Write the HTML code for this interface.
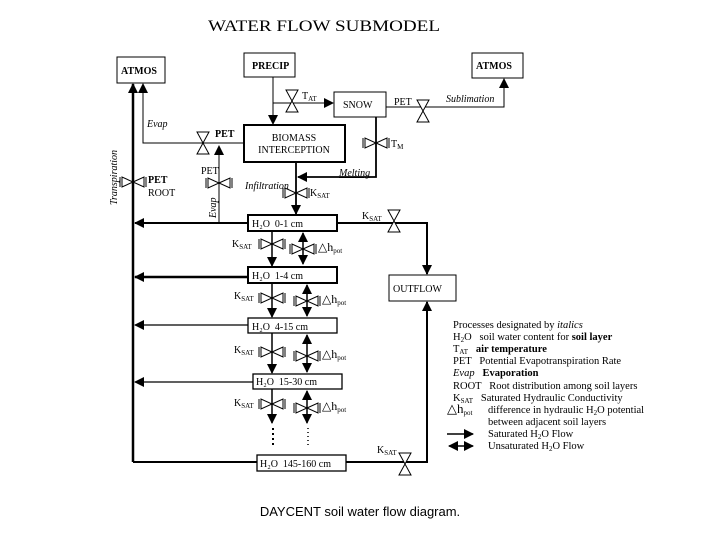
<!DOCTYPE html>
<html><head><meta charset="utf-8"><style>
html,body{margin:0;padding:0;background:#fff;}
svg{display:block;}
text{font-family:"Liberation Serif",serif;fill:#000;}
.s{font-size:10px;}
.b{font-weight:bold;}
.i{font-style:italic;}
.lg{font-size:10.5px;}
</style></head><body>
<svg width="720" height="540" viewBox="0 0 720 540" xmlns="http://www.w3.org/2000/svg">
<defs>
<marker id="a" markerWidth="8" markerHeight="8" refX="7" refY="4" orient="auto" markerUnits="userSpaceOnUse"><path d="M0,0 L8,4 L0,8 z" fill="#000"/></marker>
<marker id="a2" markerWidth="10" markerHeight="10" refX="9" refY="5" orient="auto" markerUnits="userSpaceOnUse"><path d="M0,0 L10,5 L0,10 z" fill="#000"/></marker>
<marker id="as" markerWidth="10" markerHeight="10" refX="1" refY="5" orient="auto" markerUnits="userSpaceOnUse"><path d="M10,0 L0,5 L10,10 z" fill="#000"/></marker>
<g id="vv"><path d="M-6,-11 L6,-11 L0,0 z M0,0 L-6,11 L6,11 z" fill="#fff" stroke="#000" stroke-width="1"/></g>
<g id="hv"><path d="M-11,-5 L-11,5 L0,0 z M0,0 L11,-5 L11,5 z" fill="#fff" stroke="#000" stroke-width="1"/><path d="M-13,-5 L-13,5 M13,-5 L13,5" stroke="#000" stroke-width="1"/></g>
</defs>
<rect width="720" height="540" fill="#fff"/>
<text x="208" y="31" font-size="16" textLength="232" lengthAdjust="spacingAndGlyphs">WATER FLOW SUBMODEL</text>

<g fill="none" stroke="#000" stroke-width="1">
<rect x="117" y="57" width="48" height="26"/>
<rect x="244" y="53" width="51" height="24"/>
<rect x="472" y="53" width="51" height="25"/>
<rect x="334" y="92" width="52" height="25"/>
<rect x="389" y="275" width="67" height="26"/>
</g>
<g fill="none" stroke="#000" stroke-width="2">
<rect x="244" y="125" width="101" height="37"/>
<rect x="248" y="215" width="89" height="16"/>
<rect x="248" y="267" width="89" height="16"/>
</g>
<g fill="none" stroke="#000" stroke-width="1.3">
<rect x="248" y="318" width="89" height="15"/>
<rect x="253" y="374" width="89" height="15"/>
<rect x="257" y="455" width="89" height="16"/>
</g>
<g class="s b" font-size="10">
<text x="121" y="74">ATMOS</text>
<text x="252" y="69">PRECIP</text>
<text x="476" y="69">ATMOS</text>
<text x="343" y="108" font-weight="normal">SNOW</text>
<text x="393" y="292" font-weight="normal">OUTFLOW</text>
<text x="294" y="141" text-anchor="middle" font-weight="normal">BIOMASS</text>
<text x="294" y="153" text-anchor="middle" font-weight="normal">INTERCEPTION</text>
<text x="252" y="227" font-weight="normal">H₂O &#160;0-1 cm</text>
<text x="252" y="279" font-weight="normal">H₂O &#160;1-4 cm</text>
<text x="252" y="330" font-weight="normal">H₂O &#160;4-15 cm</text>
<text x="256" y="385" font-weight="normal">H₂O &#160;15-30 cm</text>
<text x="260" y="467" font-weight="normal">H₂O &#160;145-160 cm</text>
</g>

<g stroke="#000" fill="none" stroke-width="1">
<!-- precip to biomass -->
<path d="M273,77 V124" marker-end="url(#a2)"/>
<path d="M273,103 H333" marker-end="url(#a2)"/>
<!-- snow to atmos R -->
<path d="M386,107 H504 V79" marker-end="url(#a2)"/>
<!-- evap canopy -->
<path d="M244,143 H143 V84" marker-end="url(#a2)"/>
<!-- melting -->
<path d="M376,117 V177 H298" marker-end="url(#a2)" stroke-width="1.8"/>
<!-- infiltration -->
<path d="M296,162 V214" marker-end="url(#a2)" stroke-width="1.8"/>
<!-- evap soil -->
<path d="M219,223 V146" marker-end="url(#a2)"/>
<!-- ksat right -->
<path d="M337,223 H427 V274" marker-end="url(#a2)" stroke-width="2"/>
<path d="M346,462 H427 V302" marker-end="url(#a2)" stroke-width="2"/>
</g>
<g stroke="#000" fill="none" stroke-width="2.5">
<path d="M133,462 V84" marker-end="url(#a2)"/>
<path d="M133,462 H257" stroke-width="2"/>
</g>
<g stroke="#000" fill="none" stroke-width="2">
<path d="M248,223 H135" marker-end="url(#a2)"/>
<path d="M248,277 H135" marker-end="url(#a2)" stroke-width="2.5"/>
<path d="M248,325 H135" marker-end="url(#a2)" stroke-width="1.3"/>
<path d="M253,382 H135" marker-end="url(#a2)" stroke-width="1.3"/>
</g>
<!-- inter-layer -->
<g stroke="#000" fill="none" stroke-width="1.5">
<path d="M272,231 V266" marker-end="url(#a2)"/>
<path d="M303,264 V233" marker-end="url(#a2)" marker-start="url(#as)"/>
<path d="M272,283 V317" marker-end="url(#a2)"/>
<path d="M307,316 V285" marker-end="url(#a2)" marker-start="url(#as)"/>
<path d="M272,333 V373" marker-end="url(#a2)"/>
<path d="M307,372 V335" marker-end="url(#a2)" marker-start="url(#as)"/>
<path d="M272,389 V423" marker-end="url(#a2)"/>
<path d="M307,423 V391" marker-end="url(#a2)" marker-start="url(#as)"/>
<path d="M273,428 V448" stroke-dasharray="2,3" stroke-width="2"/>
<path d="M308,428 V448" stroke-dasharray="1,3"/>
</g>

<!-- valves -->
<use href="#vv" x="292" y="101"/>
<use href="#vv" x="423" y="111"/>
<use href="#vv" x="203" y="143"/>
<use href="#vv" x="394" y="221"/>
<use href="#vv" x="405" y="464"/>
<use href="#hv" x="133" y="182"/>
<use href="#hv" x="219" y="183"/>
<use href="#hv" x="296" y="193"/>
<use href="#hv" x="376" y="143"/>
<use href="#hv" x="272" y="244"/>
<use href="#hv" x="303" y="249"/>
<use href="#hv" x="272" y="298"/>
<use href="#hv" x="307" y="301"/>
<use href="#hv" x="272" y="352"/>
<use href="#hv" x="307" y="356"/>
<use href="#hv" x="272" y="404"/>
<use href="#hv" x="307" y="408"/>

<g class="s">
<text x="302" y="99">T<tspan font-size="7" dy="2">AT</tspan></text>
<text x="394" y="105">PET</text>
<text x="446" y="102" class="i">Sublimation</text>
<text x="391" y="147">T<tspan font-size="7" dy="2">M</tspan></text>
<text x="339" y="176" class="i" text-decoration="underline">Melting</text>
<text x="147" y="127" class="i">Evap</text>
<text x="215" y="137" class="b">PET</text>
<text x="201" y="174">PET</text>
<text x="148" y="183" class="b" font-weight="normal">PET</text>
<text x="148" y="196">ROOT</text>
<text x="245" y="189" class="i">Infiltration</text>
<text x="310" y="196">K<tspan font-size="7" dy="2">SAT</tspan></text>
<text x="362" y="219">K<tspan font-size="7" dy="2">SAT</tspan></text>
<text x="232" y="247">K<tspan font-size="7" dy="2">SAT</tspan></text>
<text x="234" y="299">K<tspan font-size="7" dy="2">SAT</tspan></text>
<text x="234" y="353">K<tspan font-size="7" dy="2">SAT</tspan></text>
<text x="234" y="406">K<tspan font-size="7" dy="2">SAT</tspan></text>
<text x="377" y="453">K<tspan font-size="7" dy="2">SAT</tspan></text>
<text x="318" y="251" font-size="12">△h<tspan font-size="7" dy="2">pot</tspan></text>
<text x="322" y="303" font-size="12">△h<tspan font-size="7" dy="2">pot</tspan></text>
<text x="322" y="358" font-size="12">△h<tspan font-size="7" dy="2">pot</tspan></text>
<text x="322" y="410" font-size="12">△h<tspan font-size="7" dy="2">pot</tspan></text>
<text transform="translate(117,205) rotate(-90)" class="i">Transpiration</text>
<text transform="translate(216,218) rotate(-90)" class="i">Evap</text>
</g>

<g class="lg">
<text x="453" y="328">Processes designated by <tspan class="i">italics</tspan></text>
<text x="453" y="340">H<tspan font-size="7" dy="2">2</tspan><tspan dy="-2">O &#160;&#160;soil water content for <tspan class="b">soil layer</tspan></tspan></text>
<text x="453" y="352">T<tspan font-size="7" dy="2">AT</tspan><tspan dy="-2"> &#160;&#160;<tspan class="b">air temperature</tspan></tspan></text>
<text x="453" y="364">PET &#160;&#160;Potential Evapotranspiration Rate</text>
<text x="453" y="376"><tspan class="i">Evap</tspan> &#160;&#160;<tspan class="b">Evaporation</tspan></text>
<text x="453" y="389">ROOT &#160;&#160;Root distribution among soil layers</text>
<text x="453" y="401">K<tspan font-size="7" dy="2">SAT</tspan><tspan dy="-2"> &#160;&#160;Saturated Hydraulic Conductivity</tspan></text>
<text x="447" y="413" font-size="13">△h<tspan font-size="7" dy="2">pot</tspan></text>
<text x="488" y="413">difference in hydraulic H<tspan font-size="7" dy="2">2</tspan><tspan dy="-2">O potential</tspan></text>
<text x="488" y="425">between adjacent soil layers</text>
<text x="488" y="437">Saturated H<tspan font-size="7" dy="2">2</tspan><tspan dy="-2">O Flow</tspan></text>
<text x="488" y="449">Unsaturated H<tspan font-size="7" dy="2">2</tspan><tspan dy="-2">O Flow</tspan></text>
</g>
<g stroke="#000" stroke-width="1.5" fill="none">
<path d="M447,434 H473" marker-end="url(#a2)"/>
<path d="M449,446 H473" marker-end="url(#a2)" marker-start="url(#as)"/>
</g>

<text x="360" y="516" text-anchor="middle" font-size="13" style="font-family:'Liberation Sans',sans-serif">DAYCENT soil water flow diagram.</text>
</svg>
</body></html>
